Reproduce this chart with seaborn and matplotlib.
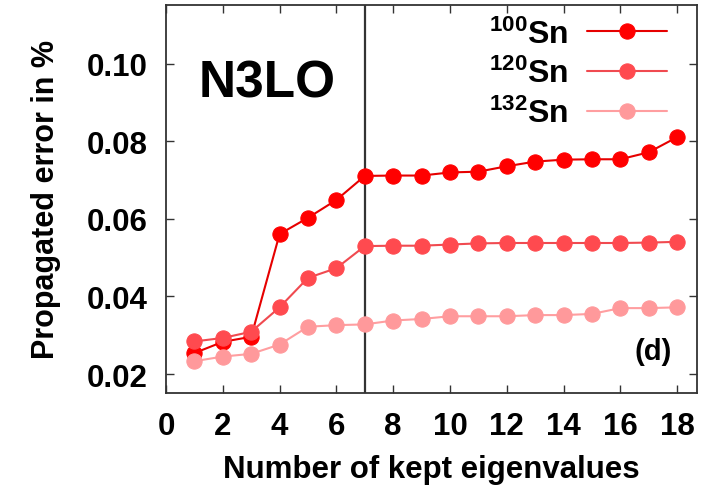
import numpy as np
import pandas as pd
import seaborn as sns
import matplotlib
matplotlib.use("Agg")
import matplotlib.pyplot as plt

kept = list(range(1, 19))
sn100 = [0.0254, 0.0283, 0.0296, 0.0561, 0.0603, 0.0649, 0.0711, 0.0712, 0.0712, 0.0720,
         0.0722, 0.0736, 0.0748, 0.0753, 0.0754, 0.0754, 0.0772, 0.0811]
sn120 = [0.0284, 0.0293, 0.0309, 0.0372, 0.0448, 0.0473, 0.0530, 0.0531, 0.0531, 0.0534,
         0.0537, 0.0538, 0.0538, 0.0538, 0.0538, 0.0538, 0.0539, 0.0541]
sn132 = [0.0233, 0.0245, 0.0252, 0.0276, 0.0322, 0.0326, 0.0328, 0.0338, 0.0342, 0.0349,
         0.0349, 0.0349, 0.0352, 0.0352, 0.0355, 0.0370, 0.0370, 0.0372]
labels = [r"$\mathbf{^{100}}$Sn", r"$\mathbf{^{120}}$Sn", r"$\mathbf{^{132}}$Sn"]
xticks = list(range(0, 19, 2))
yticks = [0.02, 0.04, 0.06, 0.08, 0.10]

sns.set_theme(style="ticks")
plt.rcParams['font.family'] = ['Liberation Sans', 'DejaVu Sans']
plt.rcParams['font.weight'] = 'bold'
plt.rcParams['mathtext.fontset'] = 'custom'
plt.rcParams['mathtext.bf'] = 'Liberation Sans:bold'
plt.rcParams['mathtext.rm'] = 'Liberation Sans:bold'
plt.rcParams['text.color'] = 'black'
plt.rcParams['axes.labelcolor'] = 'black'
plt.rcParams['xtick.labelcolor'] = 'black'
plt.rcParams['ytick.labelcolor'] = 'black'

df = pd.DataFrame({
    "x": kept * 3,
    "y": sn100 + sn120 + sn132,
    "series": [labels[0]] * 18 + [labels[1]] * 18 + [labels[2]] * 18,
})

marker_colors = ["#ff0000", "#ff4a4f", "#ff999b"]
line_colors = ["#e60000", "#f04a50", "#ff9ea0"]

fig = plt.figure(figsize=(7.07, 4.89), dpi=100)
ax = fig.add_axes([166/707, 1 - 394/489, (697 - 166)/707, (394 - 6)/489])

for lab, lc, mc in zip(labels, line_colors, marker_colors):
    sub = df[df["series"] == lab]
    sns.lineplot(data=sub, x="x", y="y", ax=ax, color=lc, linewidth=1.5,
                 marker="o", markersize=11, markerfacecolor=mc,
                 markeredgecolor=mc, label=lab)

ax.axvline(7, color="#333333", linewidth=1.6, zorder=0)

ax.set_xlim(0, 18.7)
ax.set_ylim(0.0151, 0.1152)
ax.set_xticks(xticks)
ax.set_yticks(yticks)
ax.set_yticklabels([f"{v:.2f}" for v in yticks])
ax.tick_params(direction="in", length=6, width=1, top=True, right=True,
               labelsize=22.5, color="#333333", labelcolor="black")
ax.tick_params(axis="x", pad=13)
ax.tick_params(axis="y", pad=13)
for lbl in ax.get_xticklabels() + ax.get_yticklabels():
    lbl.set_fontweight("bold")
for s in ax.spines.values():
    s.set_linewidth(1.3)
    s.set_color("#333333")

ax.set_xlabel("Number of kept eigenvalues", fontsize=22.5, fontweight="bold",
              labelpad=9, color="black")
ax.set_ylabel("Propagated error in %", fontsize=22, fontweight="bold",
              labelpad=19, color="black")

ax.text(0.062, 0.80, "N3LO", transform=ax.transAxes, fontsize=37,
        fontweight="bold", ha="left", va="center", color="black")
ax.text(0.953, 0.108, "(d)", transform=ax.transAxes, fontsize=21,
        fontweight="bold", ha="right", va="center", color="black")

leg = ax.legend(loc="upper right", bbox_to_anchor=(0.998, 1.04), frameon=False,
                markerfirst=False, fontsize=23, handlelength=2.5,
                labelspacing=0.27, handletextpad=0.6)
for t in leg.get_texts():
    t.set_fontweight("bold")
    t.set_color("black")

fig.savefig("out.png", dpi=100)
